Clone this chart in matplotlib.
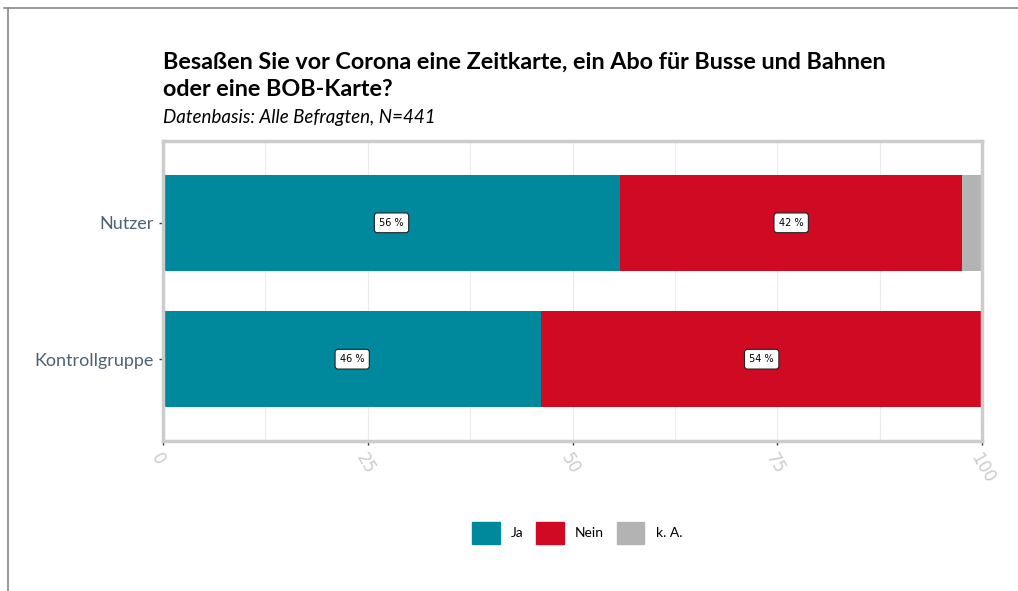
import matplotlib.pyplot as plt
from matplotlib.patches import Rectangle
import numpy as np

# data
groups = ['Nutzer', 'Kontrollgruppe']
categories = ['Ja', 'Nein', 'k. A.']
ja = [55.8, 46.2]
nein = [41.8, 53.8]
ka = [2.4, 0.0]
labels_ja = ['56 %', '46 %']
labels_nein = ['42 %', '54 %']

colors = {'Ja': '#00889C', 'Nein': '#D00A22', 'k. A.': '#B3B3B3'}

plt.rcParams['font.family'] = ['Lato', 'DejaVu Sans']

fig = plt.figure(figsize=(10.18, 5.91), dpi=100)
W, H = 1018, 591
ax = fig.add_axes([163 / W, 1 - 441 / H, (982 - 163) / W, (441 - 141) / H])

y = np.arange(len(groups))[::-1] + 1  # Nutzer on top
series = [ja, nein, ka]
left = np.zeros(len(groups))
for name, vals in zip(categories, series):
    vals = np.array(vals)
    ax.barh(y, vals, left=left, height=0.7, color=colors[name], linewidth=0)
    left = left + vals

box = dict(boxstyle='round,pad=0.5,rounding_size=0.3', fc='white', ec='#222222', lw=0.8)
for i in range(len(groups)):
    ax.text(ja[i] / 2, y[i], labels_ja[i], ha='center', va='center', fontsize=7,
            family='DejaVu Sans', bbox=box)
    ax.text(ja[i] + nein[i] / 2, y[i], labels_nein[i], ha='center', va='center', fontsize=7,
            family='DejaVu Sans', bbox=box)

ax.set_xlim(0, 100)
ax.set_ylim(0.4, 2.6)
ax.set_yticks(y)
ax.set_yticklabels(groups, fontsize=13, color='#4D6272')
ax.set_xticks([0, 25, 50, 75, 100])
ax.set_xticklabels(['0', '25', '50', '75', '100'], rotation=-60, ha='left', va='top',
                   rotation_mode='anchor', fontsize=12, color='#CCCCCC', family='DejaVu Sans')
ax.set_xticks([12.5, 37.5, 62.5, 87.5], minor=True)
ax.grid(axis='x', which='both', color='#EBEBEB', lw=0.8)
ax.set_axisbelow(True)
ax.tick_params(axis='both', which='major', length=3, color='#333333', width=1)
ax.tick_params(axis='x', which='minor', length=0)
for s in ax.spines.values():
    s.set_color('#CCCCCC')
    s.set_linewidth(2.5)

# title
fig.text(163 / W, 1 - 76 / H, 'Besaßen Sie vor Corona eine Zeitkarte, ein Abo für Busse und Bahnen\noder eine BOB-Karte?',
         fontsize=16.8, fontweight='bold', va='center', ha='left', linespacing=1.38)
fig.text(163 / W, 1 - 117 / H, 'Datenbasis: Alle Befragten, N=441', fontsize=13.5, style='italic',
         va='center', ha='left')

# legend
handles = [Rectangle((0, 0), 1, 1, color=colors[c]) for c in categories]
fig.legend(handles, categories, loc='center', bbox_to_anchor=(0.567, 1 - 533 / H), ncol=3,
           frameon=False, fontsize=10, handlelength=2.0, handleheight=2.0, columnspacing=0.9,
           handletextpad=0.8)

# outer frame lines
fig.add_artist(plt.Line2D([4 / W, 1], [1 - 8 / H, 1 - 8 / H], color='#888888', lw=1.2))
fig.add_artist(plt.Line2D([8 / W, 8 / W], [0, 1 - 8 / H], color='#888888', lw=1.2))

fig.savefig('out.png', dpi=100)
